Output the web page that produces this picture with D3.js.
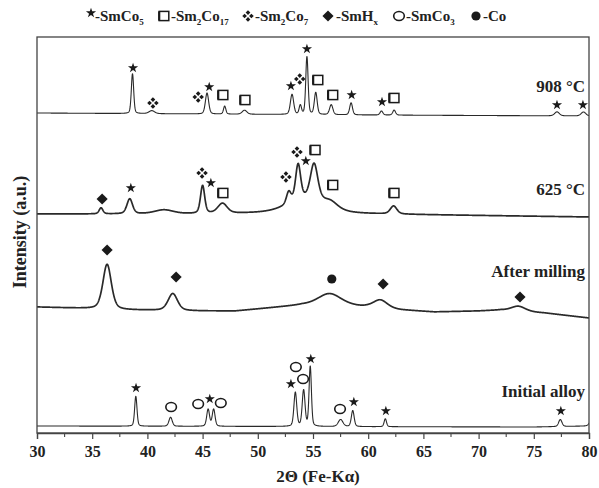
<!DOCTYPE html>
<html lang="en">
<head>
<meta charset="utf-8">
<title>XRD patterns</title>
<style>
  body { margin: 0; background: #fff; }
  svg { display: block; }
  .lbl { font: bold 15px "Liberation Serif", "Times New Roman", serif; fill: #222; }
  .trace { fill: none; stroke: #2a2a2a; stroke-linejoin: round; }
</style>
</head>
<body>
<svg id="vis" width="599" height="488"></svg>
<script src="https://d3js.org/d3.v7.min.js"></script>
<script>

// baselines: [2theta, intensity]
var base908 = [[30, 320], [60, 318], [80, 317]];
var base625 = [[30, 219], [45, 219], [52, 220], [60, 219], [80, 216]];
var baseMill = [[30, 126], [33, 125], [38, 123], [45, 122], [48, 122], [50, 124], [52, 126], [54, 128],
                [58, 127], [60, 126], [63, 123], [66, 121], [70, 122], [72, 123], [76, 120], [80, 115]];
var baseInit = [[30, 7], [75, 6], [80, 7]];

// peaks: [2theta, height, fwhm]
var peaks908 = [[38.65, 40, 0.25], [40.4, 3, 0.6], [45.4, 21, 0.35], [47.0, 8, 0.25], [48.8, 4, 0.5],
                [53.1, 20, 0.35], [53.85, 9, 0.25], [54.45, 58, 0.25], [55.25, 22, 0.3], [56.65, 10, 0.35],
                [58.45, 12, 0.3], [61.2, 4, 0.3], [62.35, 5, 0.3], [77.1, 4, 0.5], [79.5, 4, 0.5]];
var peaks625 = [[35.8, 6, 0.4], [38.4, 15, 0.6], [41.5, 4, 2.0], [45.0, 28, 0.45], [46.8, 10, 1.0],
                [52.8, 12, 0.5], [53.65, 36, 0.55], [55.1, 36, 0.8], [54.5, 14, 4.0], [56.6, 6, 1.5],
                [62.3, 8, 0.7]];
var peaksMill = [[36.35, 45, 0.9], [42.3, 17, 1.0], [56.5, 12, 2.5], [61.1, 8, 1.5], [73.6, 5, 1.5]];
var peaksInit = [[38.95, 30, 0.25], [42.1, 9, 0.35], [45.5, 17, 0.3], [46.0, 17, 0.3], [53.4, 34, 0.3],
                 [54.15, 36, 0.3], [54.75, 60, 0.25], [57.5, 7, 0.5], [58.6, 16, 0.3], [61.55, 8, 0.25],
                 [77.4, 7, 0.35], [80.2, 6, 0.4]];

// phase markers: [type, 2theta, intensity]
var marks908 = [["star", 38.7, 365], ["quad", 40.5, 330], ["quad", 44.6, 336], ["star", 45.6, 346],
                ["square", 46.85, 338], ["square", 48.85, 333], ["star", 53.0, 347], ["quad", 53.8, 354],
                ["star", 54.45, 384], ["square", 55.45, 353], ["square", 56.8, 338], ["star", 58.5, 338],
                ["star", 61.25, 331], ["square", 62.35, 335], ["star", 77.1, 328], ["star", 79.45, 328]];
var marks625 = [["diamond", 35.9, 234], ["star", 38.5, 245], ["quad", 44.95, 260], ["star", 45.75, 250],
                ["square", 46.85, 240], ["quad", 52.55, 256], ["quad", 53.55, 281], ["star", 54.35, 272],
                ["square", 55.2, 283], ["square", 56.8, 248], ["square", 62.35, 240]];
var marksMill = [["diamond", 36.35, 183], ["diamond", 42.6, 156], ["dot", 56.7, 154],
                 ["diamond", 61.35, 149], ["diamond", 73.75, 136]];
var marksInit = [["star", 38.97, 45], ["circle", 42.15, 26], ["circle", 44.6, 29], ["star", 45.65, 34],
                 ["circle", 46.65, 30], ["star", 53.0, 49], ["circle", 53.45, 66], ["circle", 54.1, 54],
                 ["star", 54.8, 74], ["circle", 57.45, 24], ["star", 58.7, 31], ["star", 61.6, 22],
                 ["star", 77.45, 22]];

var traceNames = ["908 °C", "625 °C", "After milling", "Initial alloy"];
var labelLevels = [341, 238, 156, 36];

var xTicks = [30, 35, 40, 45, 50, 55, 60, 65, 70, 75, 80];

var svg = d3.select("#vis"),
    pLeft = 37, pRight = 589, pTop = 37, pBottom = 433;

var x = d3.scaleLinear().domain([30, 80]).range([pLeft, pRight]);
var y = d3.scaleLinear().domain([0, 396]).range([pBottom, pTop]);

var traces = [
  {base: base908, peaks: peaks908, marks: marks908, eta: 0.3, w: 1.1},
  {base: base625, peaks: peaks625, marks: marks625, eta: 0.4, w: 1.7},
  {base: baseMill, peaks: peaksMill, marks: marksMill, eta: 0.4, w: 1.7},
  {base: baseInit, peaks: peaksInit, marks: marksInit, eta: 0.3, w: 1.1}
];

function profile(t, p, eta) {
  var d = (t - p[0]) / p[2];
  var L = 1 / (1 + 4 * d * d);
  var G = Math.exp(-4 * Math.LN2 * d * d);
  return p[1] * (eta * L + (1 - eta) * G);
}

var grid = d3.range(30, 80.0001, 0.02);

svg.append("clipPath").attr("id", "clip")
  .append("rect").attr("x", pLeft).attr("y", pTop).attr("width", pRight - pLeft).attr("height", pBottom - pTop);

var line = d3.line().x(function(d) { return x(d[0]); }).y(function(d) { return y(d[1]); });

var plot = svg.append("g").attr("clip-path", "url(#clip)");

traces.forEach(function(tr) {
  var b = d3.scaleLinear().domain(tr.base.map(function(d) { return d[0]; }))
                          .range(tr.base.map(function(d) { return d[1]; }));
  var pts = grid.map(function(t) {
    var v = b(t);
    tr.peaks.forEach(function(p) { v += profile(t, p, tr.eta); });
    return [t, v];
  });
  plot.append("path").attr("class", "trace").attr("stroke-width", tr.w).attr("d", line(pts));
});

// marker glyphs
var ink = "#1a1a1a";
function drawMark(g, type, cx, cy) {
  if (type === "star") {
    g.append("path").attr("d", d3.symbol().type(d3.symbolStar).size(32)())
      .attr("transform", "translate(" + cx + "," + cy + ")").attr("fill", ink);
  } else if (type === "diamond") {
    g.append("path").attr("d", d3.symbol().type(d3.symbolSquare).size(62)())
      .attr("transform", "translate(" + cx + "," + cy + ") rotate(45)").attr("fill", ink);
  } else if (type === "dot") {
    g.append("circle").attr("cx", cx).attr("cy", cy).attr("r", 4.6).attr("fill", ink);
  } else if (type === "circle") {
    g.append("ellipse").attr("cx", cx).attr("cy", cy).attr("rx", 5.3).attr("ry", 4.5)
      .attr("fill", "none").attr("stroke", ink).attr("stroke-width", 1.6);
  } else if (type === "square") {
    g.append("rect").attr("x", cx - 4.8).attr("y", cy - 4.6).attr("width", 9.6).attr("height", 9.2)
      .attr("fill", "none").attr("stroke", ink).attr("stroke-width", 1.5);
    g.append("path").attr("d", "M" + (cx - 4.8) + "," + (cy - 4.6) + "V" + (cy + 4.6))
      .attr("stroke", ink).attr("stroke-width", 2.2);
  } else if (type === "quad") {
    [[0, -3.4], [0, 3.4], [-3.4, 0], [3.4, 0]].forEach(function(o) {
      g.append("path").attr("d", d3.symbol().type(d3.symbolSquare).size(11)())
        .attr("transform", "translate(" + (cx + o[0]) + "," + (cy + o[1]) + ") rotate(45)").attr("fill", ink);
    });
  }
}

var markG = svg.append("g");
traces.forEach(function(tr) {
  tr.marks.forEach(function(m) { drawMark(markG, m[0], x(m[1]), y(m[2])); });
});

// trace labels
svg.selectAll(".tname").data(traceNames).enter().append("text")
  .attr("class", "lbl").style("font-size", "17px")
  .attr("x", pRight - 4).attr("y", function(d, i) { return y(labelLevels[i]); })
  .attr("text-anchor", "end").text(function(d) { return d; });

// frame
svg.append("rect").attr("x", pLeft).attr("y", pTop).attr("width", pRight - pLeft).attr("height", pBottom - pTop)
  .attr("fill", "none").attr("stroke", "#444").attr("stroke-width", 1.3);

// x axis
var xAxis = svg.append("g").attr("transform", "translate(0," + pBottom + ")")
  .call(d3.axisBottom(x).tickValues(xTicks).tickSize(6).tickPadding(7).tickFormat(d3.format("d")));
xAxis.select(".domain").attr("stroke", "#444").attr("stroke-width", 1.3);
xAxis.selectAll(".tick line").attr("stroke", "#444").attr("stroke-width", 1.2);
xAxis.selectAll(".tick text").attr("class", "lbl").style("font-size", "16px").attr("fill", "#222");

svg.append("g").attr("transform", "translate(0," + pBottom + ")")
  .selectAll("line").data(xTicks.slice(0, -1).map(function(d) { return d + 2.5; })).enter().append("line")
  .attr("x1", function(d) { return x(d); }).attr("x2", function(d) { return x(d); })
  .attr("y1", 0).attr("y2", 4).attr("stroke", "#444").attr("stroke-width", 1.1);

// axis titles
svg.append("text").attr("class", "lbl").style("font-size", "17px")
  .attr("x", 318).attr("y", 482).attr("text-anchor", "middle")
  .text("2Θ (Fe-Kα)");

svg.append("text").attr("class", "lbl").style("font-size", "18px")
  .attr("transform", "translate(26,232) rotate(-90)")
  .attr("text-anchor", "middle").text("Intensity (a.u.)");

// legend
var legendItems = [
  {type: "star", sx: 91, tx: 95, name: "-SmCo", sub: "5"},
  {type: "square", sx: 164, tx: 171, name: "-Sm", sub: "2", name2: "Co", sub2: "17"},
  {type: "quad", sx: 248, tx: 255, name: "-Sm", sub: "2", name2: "Co", sub2: "7"},
  {type: "diamond", sx: 328, tx: 336, name: "-SmH", sub: "x"},
  {type: "circle", sx: 399, tx: 406, name: "-SmCo", sub: "3"},
  {type: "dot", sx: 476, tx: 483, name: "-Co"}
];
var leg = svg.append("g");
legendItems.forEach(function(it) {
  drawMark(leg, it.type, it.sx, it.type === "star" ? 13 : 16);
  var t = leg.append("text").attr("class", "lbl").style("font-size", "15px").attr("x", it.tx).attr("y", 21);
  t.append("tspan").text(it.name);
  if (it.sub) t.append("tspan").attr("dy", 4).style("font-size", "9px").text(it.sub);
  if (it.name2) {
    t.append("tspan").attr("dy", -4).text(it.name2);
    t.append("tspan").attr("dy", 4).style("font-size", "9px").text(it.sub2);
  }
});

</script>
</body>
</html>
